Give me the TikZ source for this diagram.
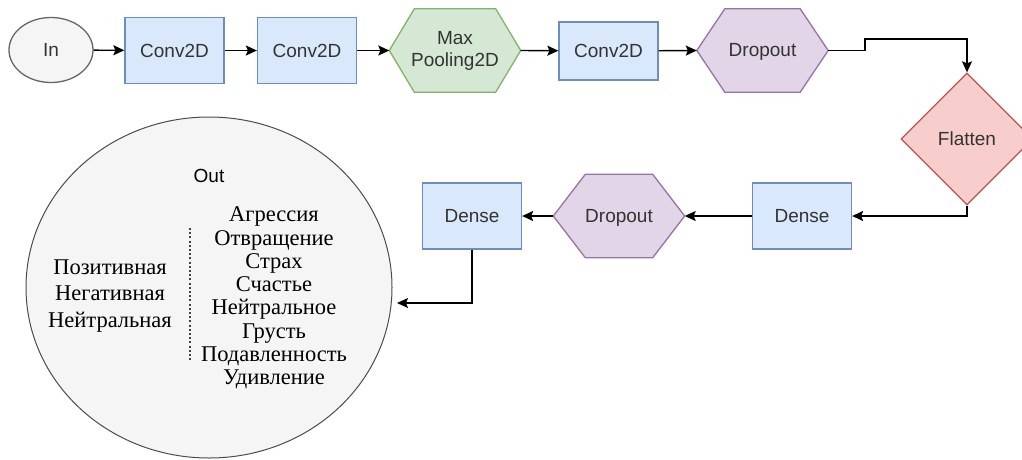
\documentclass[tikz,border=0pt]{standalone}
\usepackage{fontspec}
\setmainfont{Liberation Serif}
\newfontfamily\lsans{Liberation Sans}
\usetikzlibrary{arrows.meta,calc,shapes.geometric}
\definecolor{bfill}{HTML}{DAE8FC}\definecolor{bline}{HTML}{6C8EBF}
\definecolor{gfill}{HTML}{D5E8D4}\definecolor{gline}{HTML}{82B366}
\definecolor{pfill}{HTML}{E1D5E7}\definecolor{pline}{HTML}{9673A6}
\definecolor{rfill}{HTML}{F8CECC}\definecolor{rline}{HTML}{B85450}
\definecolor{efill}{HTML}{F5F5F5}\definecolor{eline}{HTML}{666666}
\definecolor{txt}{HTML}{333333}
\tikzset{
  lbl/.style={font=\lsans\fontsize{19}{22}\selectfont, text=txt, align=center},
  layer/.style={lbl, rectangle, draw=bline, fill=bfill, line width=1.3pt, minimum width=99pt, minimum height=66pt, inner sep=0pt},
  hexbox/.style={lbl, rectangle, inner sep=0pt, minimum width=131pt, minimum height=83pt},
  conn/.style={line width=1.4pt, -{Stealth[length=11pt,width=10pt,inset=2pt]}},
}
\newcommand{\hexdraw}[4]{% name, indent, fill, line
  \draw[line width=1.3pt, draw=#4, fill=#3] (#1.west) -- ($(#1.north west)+(#2,0)$) -- ($(#1.north east)-(#2,0)$) -- (#1.east) -- ($(#1.south east)-(#2,0)$) -- ($(#1.south west)+(#2,0)$) -- cycle;
}
\begin{document}
\begin{tikzpicture}[x=1pt,y=-1pt]
\useasboundingbox (0,0) rectangle (1022,459);
% Out ellipse
\node[ellipse, draw=black!70, fill=efill, line width=1pt, minimum width=366pt, minimum height=341pt, inner sep=0pt] (out) at (209,287.5) {};
\node[font=\lsans\fontsize{19}{21}\selectfont] (outlbl) at (209,176) {Out};
\node[align=center, font=\fontsize{22.5}{26.5}\selectfont] (sent) at (110,296) {Позитивная\\Негативная\\Нейтральная};
\node[align=center, font=\fontsize{22.5}{23.3}\selectfont] (emo) at (274,298) {Агрессия\\Отвращение\\Страх\\Счастье\\Нейтральное\\Грусть\\Подавленность\\Удивление};
\coordinate (dt) at (190,228);
\coordinate (db) at (190,362);
\draw[black!75, line width=2.6pt, dash pattern=on 2pt off 2.2pt] (dt) -- (db);

% In
\node[lbl, ellipse, draw=eline, fill=efill, line width=1.3pt, minimum width=84pt, minimum height=65pt, inner sep=0pt] (in) at (51,50) {In};
\node[layer] (c1) at (174.5,50.5) {Conv2D};
\node[layer] (c2) at (307,50.5) {Conv2D};
\node[hexbox] (mp) at (455,50.5) {};
\hexdraw{mp}{25}{gfill}{gline}
\node[lbl] at (mp) {Max\\Pooling2D};
\node[layer, minimum height=58pt] (c3) at (608.5,51) {Conv2D};
\node[hexbox] (d1) at (762.5,50.5) {};
\hexdraw{d1}{28}{pfill}{pline}
\node[lbl] at ($(d1)+(0,1.5)$) {Dropout};
% Flatten diamond
\node[lbl, diamond, draw=rline, fill=rfill, line width=1.3pt, minimum width=132pt, minimum height=132pt, inner sep=0pt] (fl) at (967,139) {Flatten};
\node[layer] (de1) at (802,216) {Dense};
\node[hexbox] (d2) at (619,216) {};
\hexdraw{d2}{32}{pfill}{pline}
\node[lbl] at ($(d2)+(0,1.5)$) {Dropout};
\node[layer] (de2) at (472,216) {Dense};
\coordinate (outin) at (397,303);

\draw[conn] (in) -- (c1);
\draw[conn] (c1) -- (c2);
\draw[conn] (c2) -- (mp.west);
\draw[conn] (mp.east) -- (c3);
\draw[conn] (c3) -- (d1.west);
\draw[conn] (d1.east) -- (865,50.5) -- (865,39) -- (967,39) -- (fl.north);
\draw[conn] (fl.south) |- (de1.east);
\draw[conn] (de1) -- (d2.east);
\draw[conn] (d2.west) -- (de2);
\draw[conn] (de2.south) |- (outin);
\end{tikzpicture}
\end{document}
